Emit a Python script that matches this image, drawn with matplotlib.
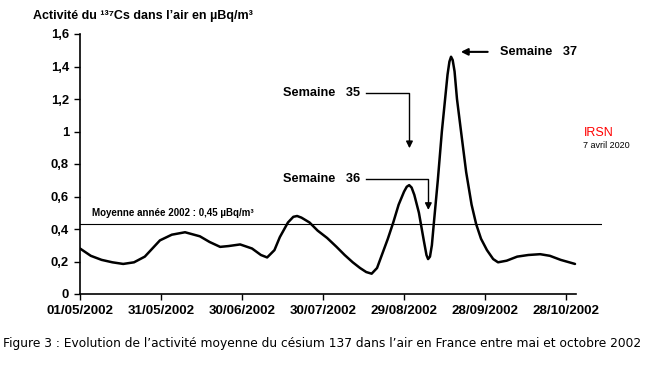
import matplotlib
matplotlib.use("Agg")
import matplotlib.pyplot as plt

# jours depuis le 01/05/2002 et activité du 137Cs (µBq/m3)
jours = [0, 4, 8, 12, 16, 20, 24, 29.6, 34, 38.9, 44.4, 48, 51.9, 55, 59.3,
         63.7, 67, 69.3, 72, 74, 77, 79, 80.4, 82, 85, 88, 91.5, 95, 98, 101,
         103.7, 106, 108, 110, 112, 114, 116, 118, 120, 121, 121.9, 122.8,
         123.8, 125.5, 127.3, 128.3, 128.9, 129.6, 130.3, 131, 132.5, 134,
         135.2, 136.1, 136.8, 137.4, 138, 138.7, 139.6, 141.1, 143, 145,
         146.7, 148.5, 150.7, 153, 154.8, 158, 161.9, 166, 170.4, 174, 178,
         183.3]
activite = [0.28, 0.235, 0.21, 0.195, 0.185, 0.195, 0.23, 0.33, 0.365, 0.38,
            0.355, 0.32, 0.29, 0.295, 0.305, 0.28, 0.24, 0.225, 0.27, 0.35,
            0.44, 0.475, 0.48, 0.47, 0.44, 0.39, 0.345, 0.29, 0.24, 0.195,
            0.16, 0.135, 0.125, 0.16, 0.25, 0.34, 0.44, 0.55, 0.63, 0.66,
            0.67, 0.655, 0.61, 0.5, 0.33, 0.24, 0.215, 0.23, 0.3, 0.43, 0.7,
            1.0, 1.2, 1.35, 1.43, 1.46, 1.44, 1.37, 1.2, 1.0, 0.75, 0.55,
            0.43, 0.34, 0.27, 0.215, 0.195, 0.205, 0.23, 0.24, 0.245, 0.235,
            0.21, 0.185]
moyenne = 0.43

xticks = [0, 30, 60, 90, 120, 150, 180]
xlabels = ["01/05/2002", "31/05/2002", "30/06/2002", "30/07/2002",
           "29/08/2002", "28/09/2002", "28/10/2002"]
yticks = [0, 0.2, 0.4, 0.6, 0.8, 1.0, 1.2, 1.4, 1.6]
ylabels = ["0", "0,2", "0,4", "0,6", "0,8", "1", "1,2", "1,4", "1,6"]

plt.rcParams["font.family"] = ["Liberation Sans", "DejaVu Sans"]

fig = plt.figure(figsize=(6.6, 3.66), dpi=100)
ax = fig.add_axes([80 / 660, 1 - 294 / 366, 522 / 660, 260 / 366])

ax.plot(jours, activite, color="black", lw=1.8, solid_joinstyle="round",
        solid_capstyle="round")
ax.axhline(moyenne, color="black", lw=0.8)

ax.set_xlim(0, 193.3)
ax.set_ylim(0, 1.6)
for s in ["top", "right"]:
    ax.spines[s].set_visible(False)
ax.spines["bottom"].set_bounds(0, 183.5)
ax.spines["left"].set_linewidth(1.2)
ax.spines["bottom"].set_linewidth(1.2)
ax.set_xticks(xticks)
ax.set_xticklabels(xlabels, fontsize=9.6, fontweight="bold")
ax.set_yticks(yticks)
ax.set_yticklabels(ylabels, fontsize=9.4, fontweight="bold")
ax.tick_params(length=4, width=1.0, pad=4)

fig.text(33 / 660, 1 - 16 / 366, "Activité du ¹³⁷Cs dans l’air en µBq/m³",
         fontsize=9, fontweight="bold", va="center")

ax.text(4.5, moyenne + 0.035, "Moyenne année 2002 : 0,45 µBq/m³",
        fontsize=7, fontweight="bold", va="bottom")

# annotations semaines
ax.text(75, 1.235, "Semaine   35", fontsize=9.2, fontweight="bold", va="center")
ax.plot([106, 122, 122], [1.235, 1.235, 0.93], color="black", lw=1.0)
ax.annotate("", xy=(122, 0.88), xytext=(122, 0.96),
            arrowprops=dict(arrowstyle="-|>", color="black", lw=1.0))
ax.text(75, 0.705, "Semaine   36", fontsize=9.2, fontweight="bold", va="center")
ax.plot([106, 129, 129], [0.705, 0.705, 0.55], color="black", lw=1.0)
ax.annotate("", xy=(129, 0.5), xytext=(129, 0.58),
            arrowprops=dict(arrowstyle="-|>", color="black", lw=1.0))
ax.annotate("", xy=(140, 1.49), xytext=(152, 1.49),
            arrowprops=dict(arrowstyle="-|>", color="black", lw=1.5))
ax.text(155.5, 1.49, "Semaine   37", fontsize=9.2, fontweight="bold", va="center")

fig.text(584 / 660, 1 - 133 / 366, "IRSN", color="red", fontsize=9, va="center")
fig.text(583 / 660, 1 - 146 / 366, "7 avril 2020", color="black", fontsize=6.5,
         va="center")

fig.text(3 / 660, 1 - 343 / 366,
         "Figure 3 : Evolution de l’activité moyenne du césium 137 dans l’air en France entre mai et octobre 2002",
         fontsize=8.85, family="DejaVu Sans", va="center")

fig.savefig("out.png", dpi=100)
